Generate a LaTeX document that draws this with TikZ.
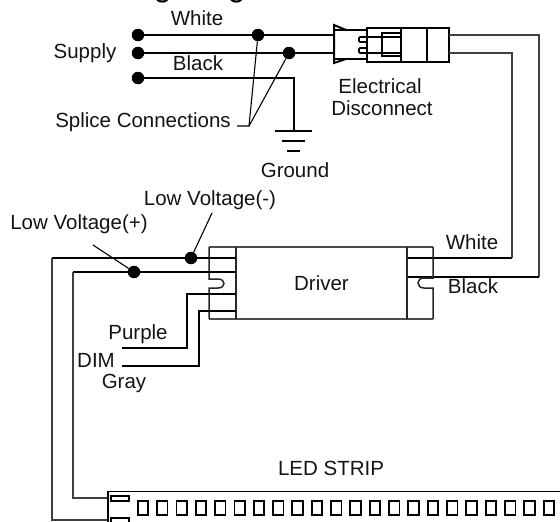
\documentclass[tikz,border=0pt]{standalone}
\usepackage{fontspec}
\setmainfont{Liberation Sans}
\begin{document}
\begin{tikzpicture}[x=1pt,y=-1pt,
  lab/.style={inner sep=0pt,font=\fontsize{20.5}{24}\selectfont,text=black!92},
  dot/.style={circle,fill=black,inner sep=0pt,minimum size=12.5pt},
  pt/.style={inner sep=0pt,minimum size=0pt,outer sep=0pt},
  wire/.style={line width=2pt,black},
  wirethin/.style={line width=1.4pt,black!75},
  lead/.style={line width=1.1pt,black},
  part/.style={line width=1.5pt,black!85},
  edge/.style={line width=2.4pt,black!70},
  strip/.style={line width=1.9pt,black}]
\useasboundingbox (0,0) rectangle (560,522);
\clip (0,0) rectangle (560,522);
% title, cut off by the top of the picture
\node[anchor=base,inner sep=0pt,font=\fontsize{31.7}{36}\selectfont] (title) at (191,-3) {Wiring Diagram};
% supply dots and splices
\node[dot] (s1) at (138,35) {};
\node[dot] (s2) at (138,53) {};
\node[dot] (s3) at (138,78) {};
\node[dot] (sp1) at (258,35) {};
\node[dot] (sp2) at (289,53) {};
\coordinate (c1) at (335,35);
\coordinate (c2) at (335,53);
\coordinate (gt) at (294,78);
\coordinate (gb) at (294,131);
\draw[wire] (s1) -- (c1);
\draw[wire] (s2) -- (c2);
\draw[wire] (s3) -- (gt) -- (gb);
% ground
\coordinate (g1l) at (275,131); \coordinate (g1r) at (312,131);
\coordinate (g2l) at (282,141); \coordinate (g2r) at (305,141);
\coordinate (g3l) at (287,151); \coordinate (g3r) at (300,151);
\draw[wire] (g1l) -- (g1r);
\draw[wire] (g2l) -- (g2r);
\draw[wire] (g3l) -- (g3r);
% splice leader
\coordinate (le) at (237,126); \coordinate (lk) at (249,126);
\draw[lead] (le) -- (lk) -- (sp1);
\draw[lead] (lk) -- (sp2);
% connector
\draw[wire,line join=miter] (346,30) -- (334,25) -- (334,63) -- (346,59);
\draw[wire] (334,30) -- (367,30);
\draw[wire] (334,59) -- (367,59);
\node[draw,strip,pt,minimum width=82pt,minimum height=34pt,anchor=north west] (box) at (367,28) {};
\draw[strip] (401,28) -- (401,62);
\draw[strip] (427,28) -- (427,62);
\draw[line width=1.6pt] (401,33) -- (382,33) -- (382,56) -- (401,56);
\draw[line width=1.6pt] (367,37) -- (360,37) -- (359,38) -- (359,41) -- (360,42) -- (367,42);
\draw[line width=1.6pt] (367,48) -- (360,48) -- (359,49) -- (359,52) -- (360,53) -- (401,53);
\draw[line width=1.6pt] (367,37) -- (401,37);
% wires to driver
\coordinate (wo1) at (449,35);\coordinate (wo2) at (449,53);
\coordinate (wc1) at (539,35);\coordinate (wc2) at (512,53);
\coordinate (wd1) at (539,277);\coordinate (wd2) at (512,258);
\coordinate (dr1) at (407,277);\coordinate (dr2) at (407,258);
\draw[wirethin] (wo1) -- (wc1) -- (wd1);
\draw[wirethin] (wo2) -- (wc2) -- (wd2);
\draw[wire] (wd1) -- (dr1);
\draw[wire] (wd2) -- (dr2);
% driver
\draw[edge] (209,247) -- (433,247);
\draw[edge] (209,319) -- (433,319);
\node[pt] (drv) at (321.5,283) {};
\draw[part] (236,247) -- (236,319);
\draw[part] (407,247) -- (407,319);
\draw[part] (209,247) -- (209,279) -- (218,279) .. controls (226,279) and (226,288) .. (218,288) -- (209,288) -- (209,319);
\draw[part] (433,247) -- (433,278) -- (424,278) .. controls (416,278) and (416,288) .. (424,288) -- (433,288) -- (433,319);
% low voltage wires
\node[dot] (lm) at (191,258) {};
\node[dot] (lp) at (134,272) {};
\coordinate (a1) at (52,258); \coordinate (b1) at (73,272);
\coordinate (a2) at (236,258); \coordinate (b2) at (236,272);
\coordinate (a3) at (52,520); \coordinate (b3) at (73,498);
\coordinate (a4) at (108,520); \coordinate (b4) at (108,498);
\draw[wire] (a2) -- (a1);
\draw[wire] (b2) -- (b1);
\draw[wirethin] (a1) -- (a3) -- (a4);
\draw[wirethin] (b1) -- (b3) -- (b4);
\coordinate (lml) at (212,213); \coordinate (lpl) at (93,245);
\draw[lead] (lm) -- (lml);
\draw[lead] (lp) -- (lpl);
% dim wires
\coordinate (p0) at (122,348);\coordinate (p1) at (187,348);\coordinate (p2) at (187,294);\coordinate (p3) at (236,294);
\coordinate (g0) at (122,366);\coordinate (g1) at (199,366);\coordinate (g2) at (199,311);\coordinate (g3) at (236,311);
\draw[wire] (p0) -- (p1) -- (p2) -- (p3);
\draw[wire] (g0) -- (g1) -- (g2) -- (g3);
% LED strip
\draw[strip] (108,530) -- (108,491.5) -- (570,491.5);
\draw[strip] (111,496) rectangle (129,501);
\draw[strip] (111,530) -- (111,518) -- (129,518) -- (129,530);
\foreach \i in {0,...,21} {
  \node[draw,strip,pt,minimum width=10.4pt,minimum height=14pt,anchor=center] (sq\i) at ({143+19.33*\i},508) {};
}
% labels
\node[lab] (tw) at (197,18) {White};
\node[lab] (tb) at (198,63) {Black};
\node[lab] (ts) at (85,53) {Supply};
\node[lab] (tsc) at (143,122) {Splice Connections};
\node[lab] (te) at (380,86) {Electrical};
\node[lab] (td) at (382,108) {Disconnect};
\node[lab] (tg) at (295,170) {Ground};
\node[lab] (tlm) at (210,200) {Low Voltage(-)};
\node[lab] (tlp) at (79,224) {Low Voltage(+)};
\node[lab] at (drv) {Driver};
\node[lab] (tw2) at (472,242) {White};
\node[lab] (tb2) at (473,286) {Black};
\node[lab] (tpu) at (138,334) {Purple};
\node[lab] (tdim) at (96,360) {DIM};
\node[lab] (tgr) at (124,383) {Gray};
\node[lab] (tled) at (331,468) {LED STRIP};
\end{tikzpicture}
\end{document}
